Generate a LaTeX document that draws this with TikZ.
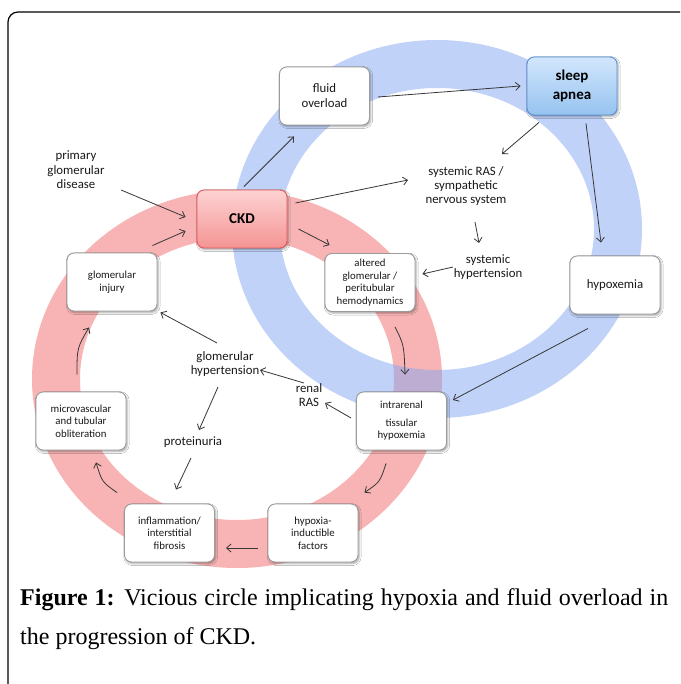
\documentclass[tikz,border=0pt]{standalone}
\usepackage{fontspec}
\setmainfont{Carlito}
\newfontfamily\capfont{Liberation Serif}
\usetikzlibrary{arrows.meta,shadows.blur,calc}
\definecolor{ringred}{RGB}{248,180,180}
\definecolor{ringblue}{RGB}{131,167,242}
\definecolor{boxgray}{RGB}{155,155,155}
\definecolor{ckdtop}{RGB}{253,210,210}
\definecolor{ckdbot}{RGB}{245,148,148}
\definecolor{ckdline}{RGB}{225,85,85}
\definecolor{satop}{RGB}{210,230,252}
\definecolor{sabot}{RGB}{150,195,240}
\definecolor{saline}{RGB}{85,145,215}
\definecolor{arrowgray}{RGB}{55,55,55}
\definecolor{txt}{RGB}{25,25,25}
\begin{document}
\begin{tikzpicture}[x=1pt,y=-1pt,
  box/.style={draw=boxgray, line width=0.9pt, rounded corners=7pt, fill=white,
    minimum width=90pt, minimum height=58pt, align=center, inner sep=2pt, text=txt,
    blur shadow={shadow xshift=1.2pt, shadow yshift=-1.6pt, shadow blur steps=4, shadow opacity=35}},
  fsmall/.style={font=\fontsize{10.8}{12.6}\selectfont},
  fmid/.style={font=\fontsize{12.8}{15}\selectfont},
  fbold/.style={font=\fontsize{15}{19}\selectfont\bfseries},
  free/.style={align=center, inner sep=1pt, text=txt, font=\fontsize{12.8}{14}\selectfont},
  arr/.style={draw=arrowgray, line width=0.8pt, -{Straight Barb[length=4.5pt,width=8pt]}}
]
\useasboundingbox (0,0) rectangle (680,684);
\clip (0,0) rectangle (680,684);
\fill[white] (0,0) rectangle (680,684);
\draw[line width=1.2pt, rounded corners=10pt] (8,720) -- (8,12) -- (720,12);

% rings
\fill[ringred, even odd rule] (237,379) ellipse [x radius=205, y radius=189]
                              (237,379) ellipse [x radius=157, y radius=141];
\fill[ringblue, opacity=0.5, even odd rule] (437,229) ellipse [x radius=205, y radius=189]
                              (437,229) ellipse [x radius=157, y radius=141];

% boxes
\node[box, fmid] (fo) at (324.5,96) {fluid\\overload};
\node[box, fbold, draw=saline, top color=satop, bottom color=sabot, text=black] (sa) at (572,86) {sleep\\apnea};
\node[box, fbold, draw=ckdline, top color=ckdtop, bottom color=ckdbot, text=black] (ckd) at (242,219) {CKD};
\node[box, fsmall] (gi) at (112,282) {glomerular\\injury};
\node[box, fsmall] (alt) at (370,282.5) {altered\\glomerular /\\peritubular\\hemodynamics};
\node[box, fmid] (hyp) at (615,285) {hypoxemia};
\node[box, fsmall] (mv) at (81,421) {microvascular\\and tubular\\obliteration};
\node[box, fsmall] (ir) at (401.5,421) {intrarenal\\[5pt]tissular\\hypoxemia};
\node[box, fsmall] (inf) at (169.5,533) {inflammation/\\interstitial\\fibrosis};
\node[box, fsmall] (hif) at (313,533) {hypoxia-\\inductible\\factors};

% free texts
\node[free, font=\fontsize{12.8}{14.5}\selectfont] (pgd) at (76,170) {primary\\glomerular\\disease};
\node[free] (sras) at (466,186) {systemic RAS /\\sympathetic\\nervous system};
\node[free] (shyp) at (488,267) {systemic\\hypertension};
\node[free] (ghyp) at (225,364) {glomerular\\hypertension};
\node[free] (rras) at (309,395) {renal\\RAS};
\node[free] (prot) at (193,442) {proteinuria};

% connectors
\draw[arr] ([shift={(45,20)}]pgd.center) -- ([shift={(-11,-2)}]ckd.west);
\draw[arr] ([shift={(-5,-7)}]gi.north east) -- ([shift={(-11,12)}]ckd.west);
\draw[arr] ([shift={(2,-3)}]ckd.north) -- ([shift={(15,11)}]fo.south west);
\draw[arr] ([shift={(8,1)}]fo.east) -- ([shift={(-6,0)}]sa.west);
\draw[arr] ([shift={(8,-16)}]ckd.east) -- ([shift={(-58,-6)}]sras.center);
\draw[arr] ([shift={(-33,7)}]sa.south) -- ([shift={(36,-32)}]sras.center);
\draw[arr] ([shift={(9,36)}]sras.center) -- ([shift={(-9,-24)}]shyp.center);
\draw[arr] ([shift={(14,8)}]sa.south) -- ([shift={(-14,-13)}]hyp.north);
\draw[arr] ([shift={(11,10)}]ckd.east) -- ([shift={(5,-8)}]alt.north west);
\draw[arr] ([shift={(-35,0)}]shyp.center) -- ([shift={(7,-8.5)}]alt.east);
\draw[arr] ([shift={(25,15)}]alt.south) .. controls (404,345) .. ([shift={(3.5,-17)}]ir.north);
\draw[arr] ([shift={(-27,14)}]hyp.south) -- ([shift={(6,-21)}]ir.east);
\draw[arr] ([shift={(-5,-3)}]ir.west) -- ([shift={(16,8)}]rras.center);
\draw[arr] ([shift={(-5,-12)}]rras.center) -- ([shift={(35,6)}]ghyp.center);
\draw[arr] ([shift={(-8,-21)}]ghyp.center) -- ([shift={(3,1)}]gi.south east);
\draw[arr] ([shift={(-7,23)}]ghyp.center) -- ([shift={(6,-12)}]prot.center);
\draw[arr] ([shift={(-2,16)}]prot.center) -- ([shift={(6.5,-14)}]inf.north);
\draw[arr] ([shift={(-15.5,13)}]ir.south) .. controls (380,482) .. ([shift={(6,-11)}]hif.north east);
\draw[arr] ([shift={(-10,15)}]hif.west) -- ([shift={(11,15)}]inf.east);
\draw[arr] ([shift={(-7,-11)}]inf.north west) .. controls (102,482) .. ([shift={(15,12)}]mv.south);
\draw[arr] ([shift={(-4,-17)}]mv.north) .. controls (77,348) .. ([shift={(-23,16)}]gi.south);

% caption
\node[anchor=north west, inner sep=0pt, text width=648pt, align=justify,
      font=\capfont\fontsize{24}{39}\selectfont] (cap) at (20,588)
  {\textbf{Figure 1:} Vicious circle implicating hypoxia and fluid overload in\linebreak the progression of CKD.};
\end{tikzpicture}
\end{document}
